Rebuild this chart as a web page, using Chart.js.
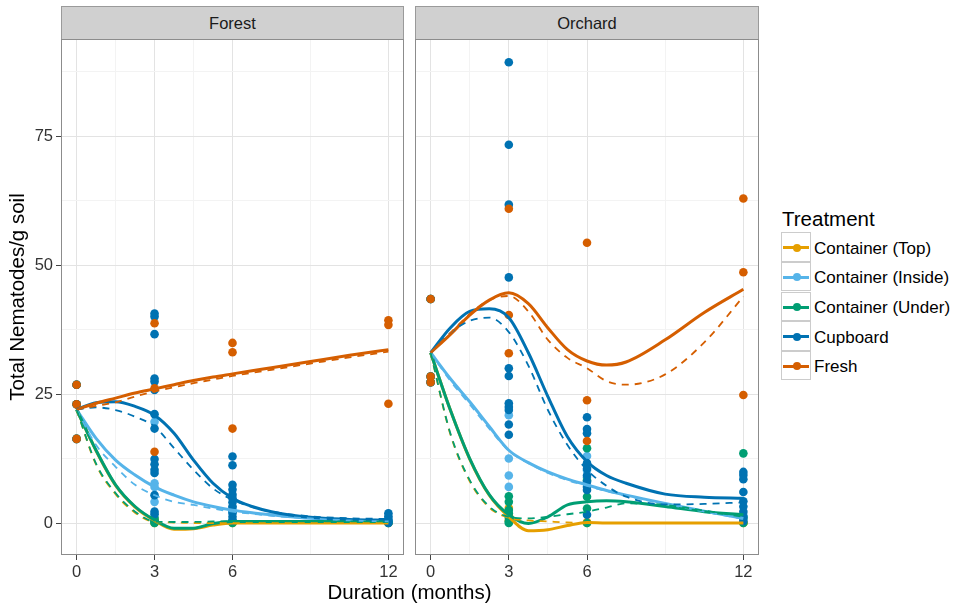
<!DOCTYPE html>
<html><head><meta charset="utf-8">
<script src="https://cdn.jsdelivr.net/npm/chart.js@4/dist/chart.umd.min.js"></script>
<style>
body{margin:0;background:#fff;width:957px;height:605px;overflow:hidden;position:relative;font-family:"Liberation Sans",Arial,sans-serif;}
.strip{position:absolute;top:6px;height:33px;box-sizing:border-box;background:#D0D0D0;border:1px solid #9a9a9a;border-bottom:none;
  font-size:16.5px;color:#1a1a1a;text-align:center;line-height:32px;}
canvas{position:absolute;}
.xtitle{position:absolute;left:61px;width:697px;top:580px;text-align:center;font-size:20.5px;color:#000;line-height:24px;}
.ltitle{position:absolute;left:782px;top:207px;font-size:20.5px;color:#000;line-height:24px;}
.lkey{position:absolute;left:781px;width:30px;height:29.6px;box-sizing:border-box;border:1px solid #CCCCCC;background:#fff;}
.lkey .ln{position:absolute;left:1px;right:1px;top:13px;height:3px;}
.lkey .dt{position:absolute;left:10.5px;top:10.5px;width:8px;height:8px;border-radius:50%;}
.ltext{position:absolute;left:814px;font-size:17px;color:#000;line-height:29.6px;white-space:nowrap;}
</style></head><body>
<div class="strip" style="left:61px;width:343px">Forest</div>
<div class="strip" style="left:415px;width:344px">Orchard</div>
<canvas id="forest" width="404" height="566" style="left:0;top:39px"></canvas>
<canvas id="orchard" width="344" height="566" style="left:415px;top:39px"></canvas>
<div class="xtitle">Duration (months)</div>
<div class="ltitle">Treatment</div>
<div id="legend"></div>
<script>
// ---------- data ----------
const treatments = ['Container (Top)', 'Container (Inside)', 'Container (Under)', 'Cupboard', 'Fresh'];
const colors = ['#E69F00', '#56B4E9', '#009E73', '#0072B2', '#D55E00'];
const pointTimes = [0, 3, 6, 12];
const xTickLabels = [0, 3, 6, 12];
const xMinorGrid = [1.5, 4.5, 9];
const yTickLabels = [0, 25, 50, 75];
const yMinorGrid = [12.5, 37.5, 62.5, 87.5];
const smoothX = [0, 0.75, 1.5, 2.25, 3, 3.75, 4.5, 5.25, 6, 6.75, 7.5, 9, 10.5, 12];

// raw observations (t = 0 is the shared initial soil sample)
const forestStart = [26.8, 23.0, 16.3];
const orchardStart = [43.4, 28.4, 27.3];

const forestTopPts      = [forestStart, [0.6, 0.3, 0.0], [0.2, 0.0], [0.1, 0.0]];
const forestInsidePts   = [forestStart, [19.6, 7.7, 7.0, 4.1], [3.0, 2.5, 2.0], [0.5, 0.2]];
const forestUnderPts    = [forestStart, [1.0, 0.5, 0.2, 0.0], [0.5, 0.2, 0.0], [0.2, 0.0]];
const forestCupboardPts = [forestStart, [40.6, 40.0, 36.6, 28.0, 27.4, 25.8, 21.1, 18.3, 12.4, 11.4, 10.3, 9.7, 5.4, 2.2, 1.7],
                           [12.9, 11.2, 7.4, 6.5, 5.5, 4.8, 4.0, 3.2, 2.0, 1.2, 0.5], [1.9, 1.3, 0.8, 0.4, 0.0]];
const forestFreshPts    = [forestStart, [38.7, 26.1, 13.8], [34.9, 33.1, 18.3], [39.3, 38.4, 23.1]];

const orchardTopPts      = [orchardStart, [2.9, 1.5, 0.5], [0.2, 0.0], [0.1, 0.0]];
const orchardInsidePts   = [orchardStart, [20.9, 12.5, 9.2, 7.0], [13.0, 10.2, 8.8], [1.5, 0.8]];
const orchardUnderPts    = [orchardStart, [5.2, 4.1, 2.5, 1.9, 1.0, 0.3, 0.0], [14.5, 8.3, 5.1, 2.8, 0.0], [13.5, 1.0, 0.0]];
const orchardCupboardPts = [orchardStart, [89.3, 73.3, 61.7, 47.6, 30.0, 28.5, 23.2, 22.5, 21.9, 19.1, 17.1],
                            [20.5, 18.2, 17.4, 11.6, 10.5, 9.2, 8.0, 7.0, 6.4, 1.6], [9.9, 9.3, 8.5, 6.0, 4.2, 3.2, 2.2, 1.2, 0.4]];
const orchardFreshPts    = [orchardStart, [60.9, 40.3, 32.9], [54.3, 23.8, 15.9], [62.9, 48.6, 24.8]];

// fitted curves read at smoothX (solid and dashed fits)
const forestTopSolid       = [22, 14.0, 7.3, 3.1, 0.5, -1.2, -1.1, -0.4, 0, 0, 0, 0, 0, 0];
const forestTopDashed      = [22, 11.3, 5.6, 2.0, 0.2, 0.1, 0, 0, 0, 0, 0, 0, 0, 0];
const forestInsideSolid    = [22, 16.4, 12.2, 9.3, 7.0, 5.4, 4.1, 3.2, 2.5, 2.0, 1.6, 0.9, 0.5, 0.3];
const forestInsideDashed   = [22, 15.1, 10.9, 7.4, 5.4, 4.1, 3.5, 2.8, 2.2, 1.8, 1.4, 0.9, 0.5, 0.3];
const forestUnderSolid     = [22, 14.1, 7.4, 3.2, 0.6, -1.0, -1.0, -0.1, 0.3, 0.3, 0.3, 0.3, 0.3, 0.3];
const forestUnderDashed    = [22, 11.5, 5.8, 2.2, 0.3, 0.2, 0.2, 0.3, 0.3, 0.3, 0.3, 0.3, 0.3, 0.3];
const forestCupboardSolid  = [22, 23.3, 23.5, 22.6, 20.9, 17.4, 12.2, 7.7, 4.8, 3.2, 2.2, 1.1, 0.7, 0.5];
const forestCupboardDashed = [22, 22.4, 21.9, 20.6, 18.7, 14.5, 10.3, 6.7, 4.5, 3.1, 2.2, 1.3, 0.9, 0.8];
const forestFreshSolid     = [22, 23.2, 24.2, 25.2, 26.0, 26.8, 27.6, 28.3, 28.9, 29.5, 30.1, 31.3, 32.5, 33.6];
const forestFreshDashed    = [22, 22.7, 23.4, 24.5, 25.5, 26.3, 27.1, 27.8, 28.5, 29.1, 29.7, 30.9, 32.1, 33.2];

const orchardTopSolid       = [33, 22.0, 12.4, 5.4, 1.2, -1.5, -1.3, -0.5, 0.1, 0, 0, 0, 0, 0];
const orchardTopDashed      = [33, 17.3, 8.1, 3.0, 1.0, 0.5, 0.3, 0.1, 0, 0, 0, 0, 0, 0];
const orchardInsideSolid    = [33, 28.0, 23.5, 18.7, 14.1, 11.7, 9.9, 8.5, 7.4, 6.3, 5.4, 3.8, 2.3, 0.9];
const orchardInsideDashed   = [33, 27.6, 23.0, 18.3, 14.0, 11.6, 9.7, 8.3, 7.2, 6.2, 5.3, 3.7, 2.2, 0.8];
const orchardUnderSolid     = [33, 22.0, 12.5, 5.5, 1.6, -0.1, 1.2, 3.5, 4.1, 4.3, 4.1, 3.2, 2.2, 1.6];
const orchardUnderDashed    = [33, 17.5, 8.3, 3.2, 1.2, 0.9, 1.2, 1.7, 2.2, 3.0, 3.8, 3.5, 2.4, 1.2];
const orchardCupboardSolid  = [33, 37.8, 41.0, 41.5, 39.8, 33.0, 24.5, 16.7, 11.9, 9.2, 7.7, 5.6, 5.0, 4.8];
const orchardCupboardDashed = [33, 36.8, 39.2, 39.8, 37.0, 30.5, 21.9, 15.1, 10.3, 7.2, 5.1, 3.6, 3.7, 4.0];
const orchardFreshSolid     = [33, 36.5, 40.3, 43.2, 44.6, 42.5, 37.8, 33.6, 31.4, 30.6, 31.2, 35.5, 40.8, 45.3];
const orchardFreshDashed    = [33, 36.8, 40.5, 43.2, 44.0, 41.0, 35.5, 32.0, 30.0, 27.5, 26.8, 28.8, 35.0, 43.9];

const forestPts = [forestTopPts, forestInsidePts, forestUnderPts, forestCupboardPts, forestFreshPts];
const forestSolid = [forestTopSolid, forestInsideSolid, forestUnderSolid, forestCupboardSolid, forestFreshSolid];
const forestDashed = [forestTopDashed, forestInsideDashed, forestUnderDashed, forestCupboardDashed, forestFreshDashed];
const orchardPts = [orchardTopPts, orchardInsidePts, orchardUnderPts, orchardCupboardPts, orchardFreshPts];
const orchardSolid = [orchardTopSolid, orchardInsideSolid, orchardUnderSolid, orchardCupboardSolid, orchardFreshSolid];
const orchardDashed = [orchardTopDashed, orchardInsideDashed, orchardUnderDashed, orchardCupboardDashed, orchardFreshDashed];

// ---------- chart ----------
const FAM = '"Liberation Sans", Arial, sans-serif';

function buildDatasets(pts, solid, dashed) {
  const ds = [];
  let seq = 0;
  treatments.forEach((name, i) => {
    const data = [];
    pts[i].forEach((vals, k) => vals.forEach(v => data.push({x: pointTimes[k], y: v})));
    ds.push({type: 'scatter', label: name, data, backgroundColor: colors[i], borderWidth: 0,
             pointRadius: 4.3, pointHoverRadius: 4.3, order: 1000 - (seq++)});
  });
  treatments.forEach((name, i) => {
    ds.push({type: 'line', label: name + ' fit', data: smoothX.map((x, j) => ({x, y: solid[i][j]})),
             borderColor: colors[i], borderWidth: 3, pointRadius: 0, fill: false,
             cubicInterpolationMode: 'monotone', order: 1000 - (seq++)});
  });
  treatments.forEach((name, i) => {
    ds.push({type: 'line', label: name + ' fit2', data: smoothX.map((x, j) => ({x, y: dashed[i][j]})),
             borderColor: colors[i], borderWidth: 1.8, borderDash: [7, 6], pointRadius: 0, fill: false,
             cubicInterpolationMode: 'monotone', order: 1000 - (seq++)});
  });
  return ds;
}

const panelBorder = {
  id: 'panelBorder',
  afterDraw(chart) {
    const a = chart.chartArea, c = chart.ctx;
    c.save();
    c.strokeStyle = '#8c8c8c';
    c.lineWidth = 1;
    c.strokeRect(a.left + 0.5, a.top + 0.5, a.right - a.left - 1, a.bottom - a.top - 1);
    c.restore();
  }
};

function noPad(s) { s.paddingTop = 0; s.paddingBottom = 0; s.paddingLeft = 0; s.paddingRight = 0; }

function makeChart(id, pts, solid, dashed, showY) {
  const xGrid = xTickLabels.concat(xMinorGrid).sort((a, b) => a - b);
  const yGrid = yTickLabels.concat(yMinorGrid).sort((a, b) => a - b);
  return new Chart(document.getElementById(id), {
    type: 'scatter',
    data: {datasets: buildDatasets(pts, solid, dashed)},
    plugins: [panelBorder],
    options: {
      responsive: false, animation: false, devicePixelRatio: 1, events: [],
      layout: {padding: 0, autoPadding: false},
      plugins: {legend: {display: false}, tooltip: {enabled: false}},
      scales: {
        x: {
          type: 'linear', min: -0.6, max: 12.6,
          afterBuildTicks: s => { s.ticks = xGrid.map(v => ({value: v})); },
          afterFit: s => { s.height = 50; noPad(s); },
          border: {display: false},
          grid: {
            color: c => xTickLabels.includes(c.tick.value) ? '#E3E3E3' : '#F3F3F3',
            tickColor: c => xTickLabels.includes(c.tick.value) ? '#444' : 'rgba(0,0,0,0)',
            tickLength: 5, lineWidth: 1
          },
          ticks: {
            autoSkip: false, maxRotation: 0, padding: 3, color: '#333',
            font: {family: FAM, size: 16.5},
            callback: v => xTickLabels.includes(v) ? String(v) : ''
          }
        },
        y: {
          type: 'linear', min: -6.2, max: 93.8,
          afterBuildTicks: s => { s.ticks = yGrid.map(v => ({value: v})); },
          afterFit: s => { s.width = showY ? 61 : 0; noPad(s); },
          border: {display: false},
          title: {display: showY, text: 'Total Nematodes/g soil', color: '#000',
                  font: {family: FAM, size: 20.5}, padding: {top: 6, bottom: 0}},
          grid: {
            color: c => yTickLabels.includes(c.tick.value) ? '#E3E3E3' : '#F3F3F3',
            tickColor: c => yTickLabels.includes(c.tick.value) ? '#444' : 'rgba(0,0,0,0)',
            tickLength: 5, lineWidth: 1, drawTicks: showY
          },
          ticks: {
            display: showY, autoSkip: false, padding: 3, color: '#333',
            font: {family: FAM, size: 16.5},
            callback: v => yTickLabels.includes(v) ? String(v) : ''
          }
        }
      }
    }
  });
}

makeChart('forest', forestPts, forestSolid, forestDashed, true);
makeChart('orchard', orchardPts, orchardSolid, orchardDashed, false);

// ---------- legend ----------
const leg = document.getElementById('legend');
treatments.forEach((name, i) => {
  const top = 232.3 + i * 29.6;
  const key = document.createElement('div');
  key.className = 'lkey';
  key.style.top = top + 'px';
  key.innerHTML = '<div class="ln" style="background:' + colors[i] + '"></div><div class="dt" style="background:' + colors[i] + '"></div>';
  leg.appendChild(key);
  const t = document.createElement('div');
  t.className = 'ltext';
  t.style.top = (top + 1.5) + 'px';
  t.textContent = name;
  leg.appendChild(t);
});
</script>
</body></html>
